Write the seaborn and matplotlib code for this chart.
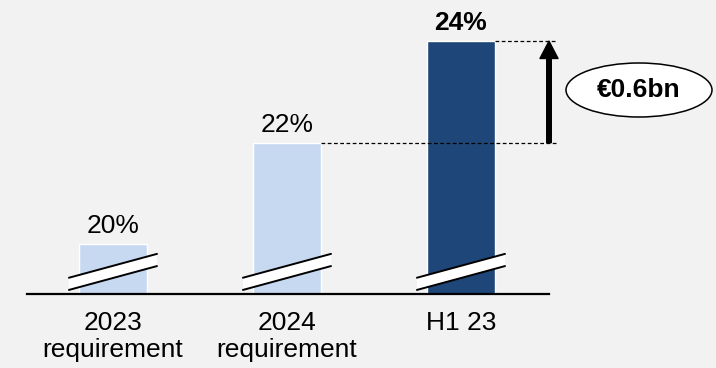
import matplotlib
matplotlib.use("Agg")
import matplotlib.pyplot as plt
from matplotlib.patches import Ellipse, Polygon
import seaborn as sns
import pandas as pd

# Capital ratio: requirements vs. actual
categories = ["2023\nrequirement", "2024\nrequirement", "H1 23"]
values = [20, 22, 24]
value_labels = ["20%", "22%", "24%"]
bar_colors = ["#c6d9f1", "#c6d9f1", "#1f4678"]
buffer_label = "€0.6bn"

sns.set_style("white")
plt.rcParams["font.family"] = ["Liberation Sans", "DejaVu Sans"]
plt.rcParams["text.color"] = "black"
plt.rcParams["xtick.color"] = "black"
plt.rcParams["xtick.labelcolor"] = "black"

BG = "#f2f2f2"
W, H = 716, 368
FS = 19
fig = plt.figure(figsize=(W / 100, H / 100), dpi=100, facecolor=BG)
ax = fig.add_axes([27 / W, 74 / H, 522 / W, 294 / H])
ax.set_facecolor(BG)

df = pd.DataFrame({"category": categories, "value": values})
bar_w = 0.39
sns.barplot(data=df, x="category", y="value", hue="category", palette=bar_colors,
            saturation=1, width=bar_w, edgecolor="white", linewidth=1,
            legend=False, ax=ax)

ax.set_xlim(-0.494, 2.506)
ax.set_ylim(19.02, 24.81)

# axis styling: only a baseline
for side in ["top", "left", "right"]:
    ax.spines[side].set_visible(False)
ax.spines["bottom"].set_linewidth(1.6)
ax.spines["bottom"].set_color("black")
ax.set_yticks([])
ax.set_xlabel("")
ax.set_ylabel("")
ax.tick_params(axis="x", length=0, pad=12, labelsize=FS, colors="black")
ax.set_xticks(range(len(categories)))
ax.set_xticklabels(categories, linespacing=1.2)

# value labels above bars
for i, (v, lab) in enumerate(zip(values, value_labels)):
    ax.annotate(lab, (i, v), xytext=(0, 8), textcoords="offset points",
                ha="center", va="baseline", fontsize=FS, color="black",
                fontweight="bold" if i == len(values) - 1 else "normal",
                annotation_clip=False)

# axis-break marks across each bar
half = 0.253
for i in range(len(values)):
    xl, xr = i - half, i + half
    lower = (19.10, 19.57)
    upper = (19.34, 19.81)
    band = Polygon([(xl, lower[0]), (xr, lower[1]), (xr, upper[1]), (xl, upper[0])],
                   closed=True, facecolor="white", edgecolor="none", zorder=5)
    ax.add_patch(band)
    ax.plot([xl, xr], [lower[0], lower[1]], color="black", lw=1.4, zorder=6)
    ax.plot([xl, xr], [upper[0], upper[1]], color="black", lw=1.4, zorder=6)

# dashed guides from the 2024 requirement and H1 23 bar tops
x_end = 2.552
for i in (1, 2):
    ax.plot([i + bar_w / 2, x_end], [values[i], values[i]], color="black", lw=0.9,
            linestyle=(0, (3, 2)), clip_on=False, zorder=4)

# arrow showing the buffer
x_arrow = 2.506
ax.annotate("", xy=(x_arrow, values[2]), xytext=(x_arrow, values[1]),
            arrowprops=dict(width=3.3, headwidth=13, headlength=12.5,
                            color="black", shrink=0),
            annotation_clip=False)

# buffer amount in an ellipse
cx, cy = 639 / W, 1 - 90 / H
fig.add_artist(Ellipse((cx, cy), 146 / W, 54 / H, transform=fig.transFigure,
                       facecolor="white", edgecolor="black", lw=1.1))
fig.text(cx, cy, buffer_label, ha="center", va="center", fontsize=FS,
         fontweight="bold", color="black")

fig.savefig("out.png", dpi=100, facecolor=BG)
